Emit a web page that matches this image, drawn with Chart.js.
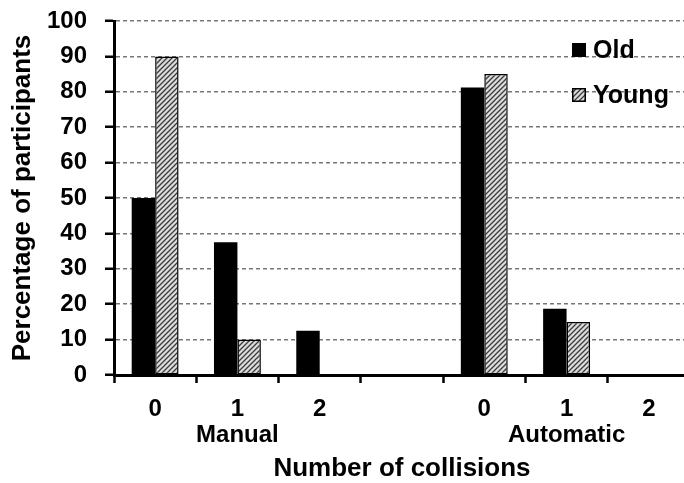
<!DOCTYPE html>
<html>
<head>
<meta charset="utf-8">
<script src="https://cdn.jsdelivr.net/npm/chart.js@4.4.1/dist/chart.umd.min.js"></script>
<style>
  html, body { margin: 0; padding: 0; background: #fff; overflow: hidden; }
  #wrap { width: 690px; height: 483px; }
</style>
</head>
<body>
<div id="wrap"><canvas id="chart" width="690" height="483"></canvas></div>
<script>
// Collisions per participant, grouped by driving mode
const collisionLabels = ['0', '1', '2', '', '0', '1', '2'];
const groupLabels = ['', 'Manual', '', '', '', 'Automatic', ''];
const oldValues = [50, 37.5, 12.5, null, 81.25, 18.75, 0];
const youngValues = [90, 10, 0, null, 85, 15, 0];
const yTicks = [0, 10, 20, 30, 40, 50, 60, 70, 80, 90, 100];

const FONT = '"Liberation Sans", Arial, sans-serif';

// hatched fill for the "Young" series
function makeHatch() {
  const c = document.createElement('canvas');
  c.width = 5; c.height = 5;
  const g = c.getContext('2d');
  g.fillStyle = '#dcdcdc';
  g.fillRect(0, 0, 5, 5);
  g.strokeStyle = '#3c3c3c';
  g.lineWidth = 1.3;
  g.beginPath();
  g.moveTo(0, 5); g.lineTo(5, 0);
  g.moveTo(-1, 1); g.lineTo(1, -1);
  g.moveTo(4, 6); g.lineTo(6, 4);
  g.stroke();
  return g.createPattern(c, 'repeat');
}

const ctx = document.getElementById('chart').getContext('2d');
const hatch = makeHatch();

const labels = collisionLabels.map((l, i) => groupLabels[i] ? [l, groupLabels[i]] : l);

// simple legend drawn inside the plot, top right
const legendPlugin = {
  id: 'cornerLegend',
  afterDraw(chart) {
    const c = chart.ctx;
    const items = chart.data.datasets;
    c.save();
    c.font = 'bold 25px ' + FONT;
    c.textBaseline = 'middle';
    c.textAlign = 'left';
    items.forEach((ds, i) => {
      const y = 50 + i * 45;
      const x = 572;
      c.fillStyle = ds.backgroundColor;
      c.fillRect(x, y - 7, 14, 14);
      if (ds.borderWidth) {
        c.strokeStyle = '#000';
        c.lineWidth = 1.5;
        c.strokeRect(x + 0.75, y - 6.25, 12.5, 12.5);
      }
      c.fillStyle = '#000';
      c.fillText(ds.label, x + 21, y + 1);
    });
    c.restore();
  }
};

new Chart(ctx, {
  type: 'bar',
  data: {
    labels: labels,
    datasets: [
      {
        label: 'Old',
        data: oldValues,
        backgroundColor: '#000000',
        borderWidth: 0
      },
      {
        label: 'Young',
        data: youngValues,
        backgroundColor: hatch,
        borderColor: '#000000',
        borderWidth: 1.5,
        borderSkipped: false
      }
    ]
  },
  options: {
    responsive: false,
    animation: false,
    devicePixelRatio: 1,
    layout: { padding: { top: 21, right: 0, left: 0, bottom: 0 } },
    datasets: {
      bar: { categoryPercentage: 0.57, barPercentage: 1.0 }
    },
    plugins: {
      legend: { display: false },
      tooltip: { enabled: false }
    },
    scales: {
      x: {
        afterFit: (scale) => {
          scale.height = 108;
          scale.paddingLeft = 0;
          scale.paddingRight = 0;
        },
        grid: {
          offset: true,
          drawOnChartArea: false,
          drawTicks: true,
          tickLength: 8,
          tickColor: '#000',
          tickWidth: 2.5
        },
        border: { color: '#000', width: 3 },
        ticks: {
          color: '#000',
          padding: 13,
          maxRotation: 0,
          autoSkip: false,
          font: { family: FONT, size: 24, weight: 'bold', lineHeight: 1.1 }
        },
        title: {
          display: true,
          text: 'Number of collisions',
          color: '#000',
          padding: { top: 0, bottom: 0 },
          font: { family: FONT, size: 26, weight: 'bold', lineHeight: 1.1 }
        }
      },
      y: {
        min: 0,
        max: 100,
        afterFit: (scale) => {
          scale.width = 114;
          scale.paddingTop = 0;
          scale.paddingBottom = 0;
        },
        afterBuildTicks: (scale) => { scale.ticks = yTicks.map(v => ({ value: v })); },
        grid: {
          color: '#777777',
          lineWidth: 1.5,
          drawTicks: true,
          tickLength: 9,
          tickColor: '#000',
          tickWidth: 2.5,
          tickBorderDash: [1, 0]
        },
        border: { color: '#000', width: 3, dash: [4, 3] },
        ticks: {
          color: '#000',
          padding: 18,
          font: { family: FONT, size: 24, weight: 'bold' }
        },
        title: {
          display: true,
          text: 'Percentage of participants',
          color: '#000',
          padding: { top: 9, bottom: 0 },
          font: { family: FONT, size: 26, weight: 'bold', lineHeight: 1.1 }
        }
      }
    }
  },
  plugins: [legendPlugin]
});
</script>
</body>
</html>
